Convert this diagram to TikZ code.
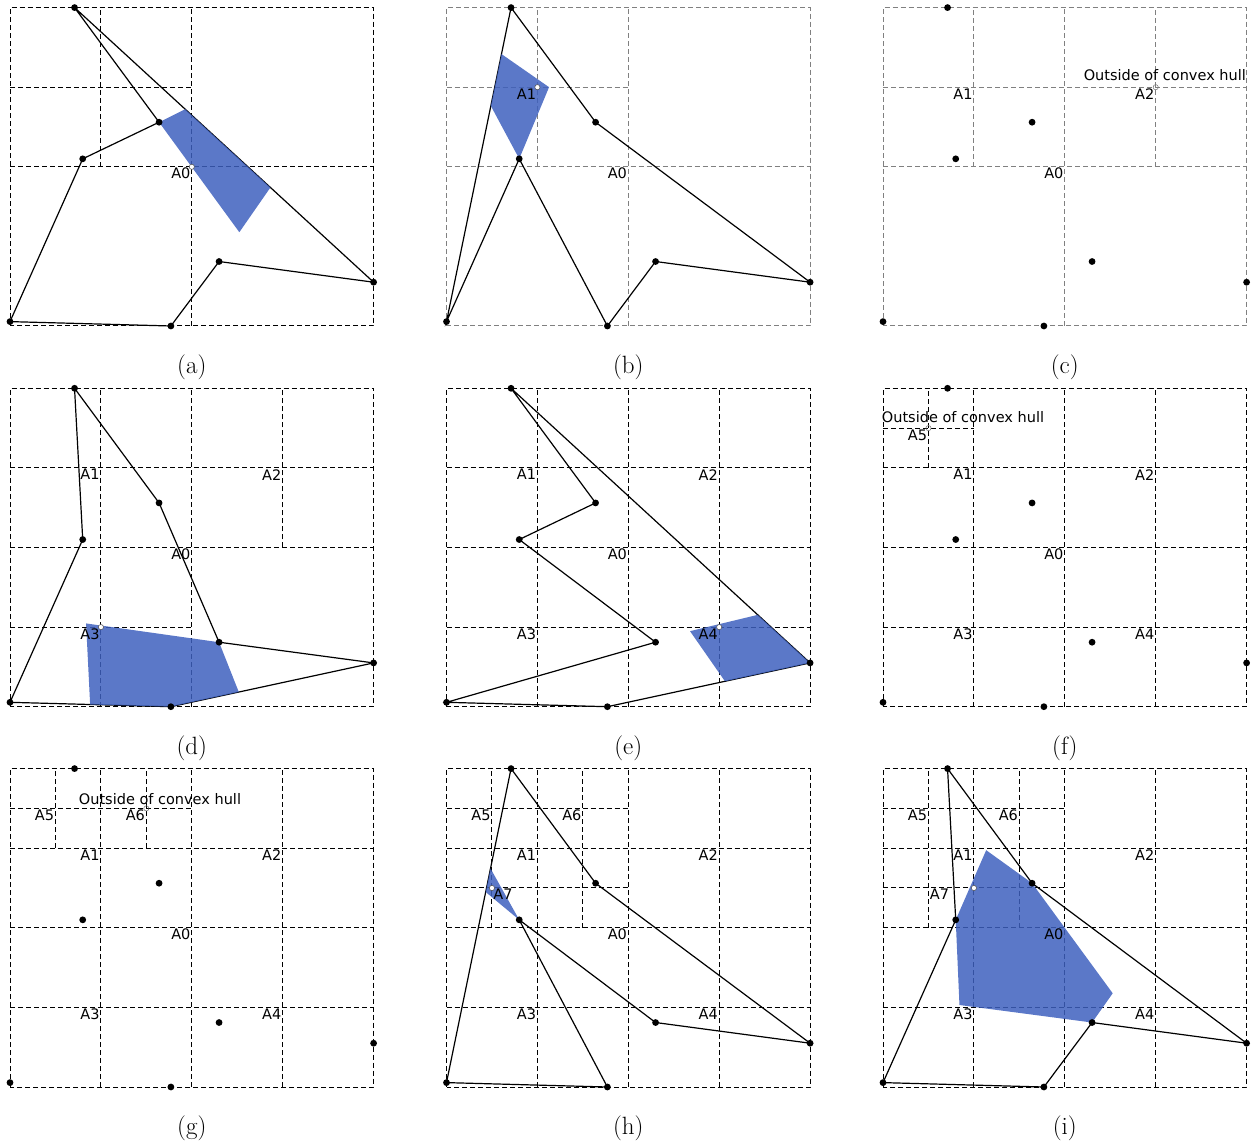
\documentclass[tikz,border=0pt]{standalone}
\usepackage{fontspec}
\newfontfamily\labelfont{DejaVu Sans}
\usetikzlibrary{calc}

\definecolor{hullblue}{RGB}{62,96,190}

% the seven sample points, in the units of one panel (0..4)
\newcommand{\hullpoints}{%
  \coordinate (p1) at (0.71,4.00);
  \coordinate (p2) at (1.64,2.56);
  \coordinate (p3) at (0.80,2.10);
  \coordinate (p4) at (0.00,0.055);
  \coordinate (p5) at (1.77,0.00);
  \coordinate (p6) at (2.30,0.81);
  \coordinate (p7) at (4.00,0.55);}
\newcommand{\hulldots}{%
  \foreach \i in {1,...,7} \fill (p\i) circle[radius=3.4pt];}
\newcommand{\basegrid}{%
  \draw[gridline] (0,0) rectangle (4,4);
  \draw[gridline] (2,0) -- (2,4);
  \draw[gridline] (0,2) -- (4,2);}

\begin{document}
\begin{tikzpicture}[x=1pt, y=1pt,
    panel/.style 2 args={shift={(#1,#2)}, x=90.9pt, y=79.6pt},
    gridline/.style={dash pattern=on 5pt off 3pt, line width=1pt},
    hulledge/.style={line width=1.2pt},
    cell/.style={fill=hullblue, fill opacity=0.85},
    query/.style={draw=black!70, fill=white, line width=0.5pt},
    outquery/.style={draw=black!55, line width=0.5pt},
    cellname/.style={font=\labelfont\fontsize{14.5}{15}\selectfont, anchor=north east, inner sep=1.2pt},
    hullnote/.style={font=\labelfont\fontsize{14.5}{15}\selectfont, anchor=base, inner sep=0pt},
    caption/.style={font=\fontsize{25}{28}\selectfont}]

\useasboundingbox (0,0) rectangle (1252,1146);

% (a) root cell
\begin{scope}[panel={10}{820}]
  \hullpoints
  \basegrid
  \draw[gridline] (1,2) -- (1,4);
  \draw[gridline] (0,3) -- (2,3);
  \draw[hulledge] (p1) -- (p2) -- (p3) -- (p4) -- (p5) -- (p6) -- (p7) -- cycle;
  \fill[cell] (p2) -- ($(p1)!0.370!(p7)$) -- ($(p1)!0.655!(p7)$) -- (2.523,1.178) -- cycle;
  \hulldots
  \draw[query] (2,2) circle[radius=2.6pt];
  \node[cellname] (aA0) at (2,2) {A0};
  \node[caption] (capa) at (2,-0.52) {(a)};
\end{scope}

% (b) cell A1
\begin{scope}[panel={446.5}{820}, gridline/.append style={black!50}]
  \hullpoints
  \basegrid
  \draw[gridline] (1,2) -- (1,4);
  \draw[gridline] (0,3) -- (2,3);
  \draw[hulledge] (p4) -- (p1) -- (p2) -- (p7) -- (p6) -- (p5) -- (p3) -- cycle;
  \fill[cell] ($(p4)!0.852!(p1)$) -- (1.128,3.0) -- (p3) -- ($(p4)!0.687!(p1)$) -- cycle;
  \hulldots
  \draw[query] (1,3) circle[radius=2.6pt];
  \node[cellname] (bA1) at (1,3) {A1};
  \node[cellname] (bA0) at (2,2) {A0};
  \node[caption] (capb) at (2,-0.52) {(b)};
\end{scope}

% (c) cell A2, no hull
\begin{scope}[panel={883}{820}, gridline/.append style={black!50}]
  \hullpoints
  \basegrid
  \draw[gridline] (1,2) -- (1,4);
  \draw[gridline] (3,2) -- (3,4);
  \draw[gridline] (0,3) -- (4,3);
  \hulldots
  \draw[outquery] (3,3) circle[radius=2.6pt];
  \node[cellname] (cA1) at (1,3) {A1};
  \node[cellname] (cA2) at (3,3) {A2};
  \node[cellname] (cA0) at (2,2) {A0};
  \node[hullnote] (cout) at (3.1,3.087) {Outside of convex hull};
  \node[caption] (capc) at (2,-0.52) {(c)};
\end{scope}

% (d) cell A3
\begin{scope}[panel={10}{439.3}]
  \hullpoints
  \basegrid
  \draw[gridline] (1,0) -- (1,4);
  \draw[gridline] (3,2) -- (3,4);
  \draw[gridline] (0,3) -- (4,3);
  \draw[gridline] (0,1) -- (2,1);
  \draw[hulledge] (p1) -- (p3) -- (p4) -- (p5) -- (p7) -- (p6) -- (p2) -- cycle;
  \fill[cell] (0.837,1.046) -- (p6) -- ($(p5)!0.335!(p7)$) -- (p5) -- ($(p4)!0.498!(p5)$) -- cycle;
  \hulldots
  \draw[query] (1,1) circle[radius=2.6pt];
  \node[cellname] (dA1) at (1,3) {A1};
  \node[cellname] (dA2) at (3,3) {A2};
  \node[cellname] (dA0) at (2,2) {A0};
  \node[cellname] (dA3) at (1,1) {A3};
  \node[caption] (capd) at (2,-0.52) {(d)};
\end{scope}

% (e) cell A4
\begin{scope}[panel={446.5}{439.3}]
  \hullpoints
  \basegrid
  \draw[gridline] (1,0) -- (1,4);
  \draw[gridline] (3,0) -- (3,4);
  \draw[gridline] (0,1) -- (4,1);
  \draw[gridline] (0,3) -- (4,3);
  \draw[hulledge] (p1) -- (p2) -- (p3) -- (p6) -- (p4) -- (p5) -- (p7) -- cycle;
  \fill[cell] (2.679,0.949) -- ($(p1)!0.825!(p7)$) -- (p7) -- ($(p5)!0.58!(p7)$) -- cycle;
  \hulldots
  \draw[query] (3,1) circle[radius=2.6pt];
  \node[cellname] (eA1) at (1,3) {A1};
  \node[cellname] (eA2) at (3,3) {A2};
  \node[cellname] (eA0) at (2,2) {A0};
  \node[cellname] (eA3) at (1,1) {A3};
  \node[cellname] (eA4) at (3,1) {A4};
  \node[caption] (cape) at (2,-0.52) {(e)};
\end{scope}

% (f) cell A5, no hull
\begin{scope}[panel={883}{439.3}]
  \hullpoints
  \basegrid
  \draw[gridline] (1,0) -- (1,4);
  \draw[gridline] (3,0) -- (3,4);
  \draw[gridline] (0,1) -- (4,1);
  \draw[gridline] (0,3) -- (4,3);
  \draw[gridline] (0.5,3) -- (0.5,4);
  \draw[gridline] (0,3.5) -- (1,3.5);
  \hulldots
  \draw[outquery] (0.5,3.5) circle[radius=2.6pt];
  \node[cellname] (fA5) at (0.5,3.5) {A5};
  \node[cellname] (fA1) at (1,3) {A1};
  \node[cellname] (fA2) at (3,3) {A2};
  \node[cellname] (fA0) at (2,2) {A0};
  \node[cellname] (fA3) at (1,1) {A3};
  \node[cellname] (fA4) at (3,1) {A4};
  \node[hullnote, anchor=base west] (fout) at (-0.014,3.574) {Outside of convex hull};
  \node[caption] (capf) at (2,-0.52) {(f)};
\end{scope}

% (g) cell A6, no hull
\begin{scope}[panel={10}{59}]
  \hullpoints
  \basegrid
  \draw[gridline] (1,0) -- (1,4);
  \draw[gridline] (3,0) -- (3,4);
  \draw[gridline] (0,1) -- (4,1);
  \draw[gridline] (0,3) -- (4,3);
  \draw[gridline] (0.5,3) -- (0.5,4);
  \draw[gridline] (1.5,3) -- (1.5,4);
  \draw[gridline] (0,3.5) -- (2,3.5);
  \hulldots
  \draw[outquery] (1.5,3.5) circle[radius=2.6pt];
  \node[cellname] (gA5) at (0.5,3.5) {A5};
  \node[cellname] (gA6) at (1.5,3.5) {A6};
  \node[cellname] (gA1) at (1,3) {A1};
  \node[cellname] (gA2) at (3,3) {A2};
  \node[cellname] (gA0) at (2,2) {A0};
  \node[cellname] (gA3) at (1,1) {A3};
  \node[cellname] (gA4) at (3,1) {A4};
  \node[hullnote] (gout) at (1.65,3.552) {Outside of convex hull};
  \node[caption] (capg) at (2,-0.52) {(g)};
\end{scope}

% (h) cell A7
\begin{scope}[panel={446.5}{59}]
  \hullpoints
  \basegrid
  \draw[gridline] (1,0) -- (1,4);
  \draw[gridline] (3,0) -- (3,4);
  \draw[gridline] (0,1) -- (4,1);
  \draw[gridline] (0,3) -- (4,3);
  \draw[gridline] (0.5,2) -- (0.5,4);
  \draw[gridline] (1.5,2) -- (1.5,4);
  \draw[gridline] (0,3.5) -- (2,3.5);
  \draw[gridline] (0,2.5) -- (2,2.5);
  \draw[hulledge] (p4) -- (p1) -- (p2) -- (p7) -- (p6) -- (p3) -- (p5) -- cycle;
  \fill[cell] ($(p4)!0.682!(p1)$) -- (p3) -- ($(p4)!0.607!(p1)$) -- cycle;
  \hulldots
  \draw[query] (0.5,2.5) circle[radius=2.6pt];
  \node[cellname] (hA5) at (0.5,3.5) {A5};
  \node[cellname] (hA6) at (1.5,3.5) {A6};
  \node[cellname] (hA1) at (1,3) {A1};
  \node[cellname] (hA2) at (3,3) {A2};
  \node[cellname, anchor=north west] (hA7) at (0.5,2.5) {A7};
  \node[cellname] (hA0) at (2,2) {A0};
  \node[cellname] (hA3) at (1,1) {A3};
  \node[cellname] (hA4) at (3,1) {A4};
  \node[caption] (caph) at (2,-0.52) {(h)};
\end{scope}

% (i) merged cells
\begin{scope}[panel={883}{59}]
  \hullpoints
  \basegrid
  \draw[gridline] (1,0) -- (1,4);
  \draw[gridline] (3,0) -- (3,4);
  \draw[gridline] (0,1) -- (4,1);
  \draw[gridline] (0,3) -- (4,3);
  \draw[gridline] (0.5,2) -- (0.5,4);
  \draw[gridline] (1.5,2) -- (1.5,4);
  \draw[gridline] (0,3.5) -- (2,3.5);
  \draw[gridline] (0,2.5) -- (2,2.5);
  \draw[hulledge] (p1) -- (p2) -- (p7) -- (p6) -- (p5) -- (p4) -- (p3) -- cycle;
  \fill[cell] (1.135,2.975) -- (p2) -- (2.527,1.177) -- (p6) -- (0.841,1.03) -- (p3) -- cycle;
  \hulldots
  \draw[query] (1,2.5) circle[radius=2.6pt];
  \node[cellname] (iA5) at (0.5,3.5) {A5};
  \node[cellname] (iA6) at (1.5,3.5) {A6};
  \node[cellname] (iA1) at (1,3) {A1};
  \node[cellname] (iA2) at (3,3) {A2};
  \node[cellname, anchor=north west] (iA7) at (0.5,2.5) {A7};
  \node[cellname] (iA0) at (2,2) {A0};
  \node[cellname] (iA3) at (1,1) {A3};
  \node[cellname] (iA4) at (3,1) {A4};
  \node[caption] (capi) at (2,-0.52) {(i)};
\end{scope}

\end{tikzpicture}
\end{document}
